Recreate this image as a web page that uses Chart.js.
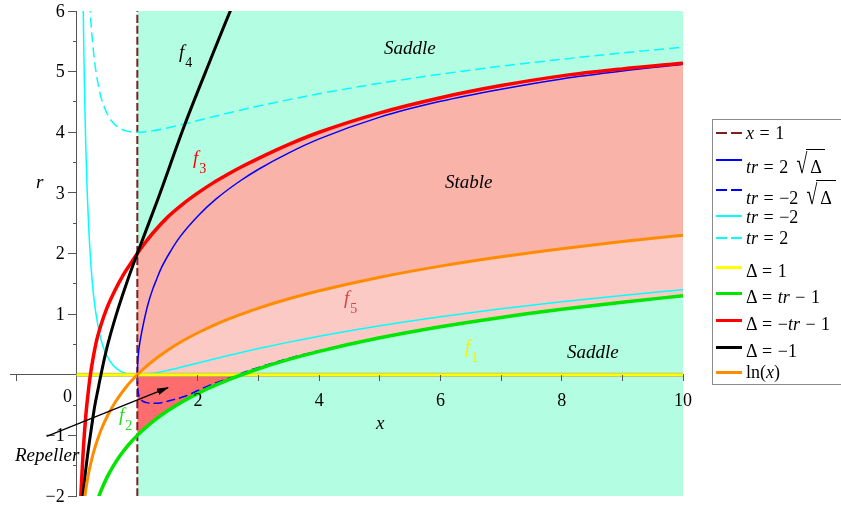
<!DOCTYPE html>
<html lang="en">
<head>
<meta charset="utf-8">
<title>Stability regions in the (x, r) plane</title>
<script src="https://cdn.jsdelivr.net/npm/chart.js@4.4.1/dist/chart.umd.min.js"></script>
<style>
  html, body { margin: 0; padding: 0; background: #fff; }
  #wrap { position: relative; width: 841px; height: 510px; overflow: hidden;
          font-family: 'Liberation Serif', 'Times New Roman', 'DejaVu Serif', serif; color: #000; }
  #plot { position: absolute; left: 0; top: 0; }
  .lbl { position: absolute; white-space: nowrap; font-size: 19px; line-height: 19px; font-style: italic; }
  .lbl .sub { font-style: normal; font-size: 14px; position: relative; top: 9px; margin-left: 1px; }
  .num { position: absolute; white-space: nowrap; font-size: 18px; line-height: 18px; }
  #legend { position: absolute; left: 712px; top: 119px; width: 150px; height: 266px;
            border: 1px solid #8c8c8c; box-sizing: border-box; background: #fff; }
  .key { position: absolute; left: 716px; width: 26px; }
  .ltx { position: absolute; left: 746px; font-size: 18px; line-height: 18px; white-space: nowrap; word-spacing: 1px; }
  .it { font-style: italic; }
  .rt { display: inline-block; font-size: 18px; line-height: 18px; transform: scale(1.1, 1.55); transform-origin: 50% 88%; margin-left: 3px; }
  .ov { position: relative; }
  .ov::before { content: ''; position: absolute; left: -1px; right: 0; top: -8px; border-top: 1px solid #000; }
  svg { position: absolute; left: 0; top: 0; }
</style>
</head>
<body>
<div id="wrap">
  <canvas id="plot" width="841" height="510"></canvas>

  <!-- region names and curve tags -->
  <div class="lbl" style="left:384px;top:38px">Saddle</div>
  <div class="lbl" style="left:445px;top:172px">Stable</div>
  <div class="lbl" style="left:567px;top:342px">Saddle</div>
  <div class="lbl" style="left:15px;top:445px">Repeller</div>
  <div class="lbl" style="left:179px;top:42px;color:#000">f<span class="sub">4</span></div>
  <div class="lbl" style="left:193px;top:148px;color:#ff0000">f<span class="sub">3</span></div>
  <div class="lbl" style="left:344px;top:288px;color:#d04545">f<span class="sub">5</span></div>
  <div class="lbl" style="left:465px;top:337px;color:#f2f200">f<span class="sub">1</span></div>
  <div class="lbl" style="left:119px;top:405px;color:#1ee01e">f<span class="sub">2</span></div>
  <div class="lbl" style="left:376px;top:413px">x</div>
  <div class="lbl" style="left:36px;top:172px">r</div>
  <div class="num" style="left:63px;top:387px">0</div>

  <svg width="841" height="510">
    <defs>
      <marker id="head" markerWidth="12" markerHeight="7" refX="11" refY="3.5" orient="auto" markerUnits="userSpaceOnUse">
        <path d="M0,0 L12,3.5 L0,7 Z" fill="#000"/>
      </marker>
    </defs>
    <line x1="46.7" y1="436.3" x2="168" y2="387.6" stroke="#000" stroke-width="1.3" marker-end="url(#head)"/>
  </svg>

  <!-- legend -->
  <div id="legend"></div>
  <div class="key" style="top:131.7px;height:2px;background:repeating-linear-gradient(90deg,#7f1f1f 0 11px,transparent 11px 15px)"></div>
  <div class="ltx" style="top:124px"><span class="it">x</span> = 1</div>
  <div class="key" style="top:159px;height:2px;background:#0000ff"></div>
  <div class="ltx" style="top:158px"><span class="it">tr</span> = 2 <span class="rt">√</span><span class="ov">&#8201;Δ&#8201;</span></div>
  <div class="key" style="top:189px;height:2px;background:repeating-linear-gradient(90deg,#0000ff 0 11px,transparent 11px 15px)"></div>
  <div class="ltx" style="top:189px"><span class="it">tr</span> = −2 <span class="rt">√</span><span class="ov">&#8201;Δ&#8201;</span></div>
  <div class="key" style="top:215px;height:2px;background:#00ffff"></div>
  <div class="ltx" style="top:207.5px"><span class="it">tr</span> = −2</div>
  <div class="key" style="top:236.7px;height:2px;background:repeating-linear-gradient(90deg,#00ffff 0 11px,transparent 11px 15px)"></div>
  <div class="ltx" style="top:229px"><span class="it">tr</span> = 2</div>
  <div class="key" style="top:265.8px;height:3px;background:#ffff00"></div>
  <div class="ltx" style="top:261.5px">Δ = 1</div>
  <div class="key" style="top:291.8px;height:3px;background:#00e600"></div>
  <div class="ltx" style="top:288px">Δ = <span class="it">tr</span> − 1</div>
  <div class="key" style="top:319.2px;height:3px;background:#ff0000"></div>
  <div class="ltx" style="top:315px">Δ = −<span class="it">tr</span> − 1</div>
  <div class="key" style="top:346.2px;height:3px;background:#000000"></div>
  <div class="ltx" style="top:341.5px">Δ = −1</div>
  <div class="key" style="top:371.2px;height:3px;background:#ff8c00"></div>
  <div class="ltx" style="top:363px">ln(<span class="it">x</span>)</div>
</div>

<script>
// Shared abscissae for every curve on the right of x = 1
const xR = [1, 1.1, 1.25, 1.5, 1.75, 2, 2.25, 2.5, 2.72, 3, 3.5, 4, 5, 6, 7, 8, 9, 10];

// f3 : Δ = −tr − 1
const redR  = [2.0, 2.14, 2.33, 2.60, 2.815, 3.0, 3.165, 3.31, 3.43, 3.57, 3.80, 4.0, 4.32, 4.57, 4.77, 4.93, 5.045, 5.14];
const redLX = [0.055, 0.066, 0.08, 0.094, 0.11, 0.127, 0.15, 0.17, 0.2, 0.226, 0.27, 0.325, 0.4, 0.49, 0.62, 0.764, 0.88];
const redLY = [-2.32, -2.06, -1.76, -1.5, -1.22, -0.97, -0.68, -0.47, -0.2, 0.0, 0.27, 0.55, 0.82, 1.08, 1.37, 1.64, 1.82];

// f5 : ln(x)
const orangeR  = [0, 0.095, 0.223, 0.405, 0.560, 0.693, 0.811, 0.916, 1.0, 1.099, 1.253, 1.386, 1.609, 1.792, 1.946, 2.079, 2.197, 2.303];
const orangeLX = [0.12, 0.15, 0.2, 0.25, 0.3, 0.4, 0.5, 0.6, 0.7, 0.8, 0.9];
const orangeLY = [-2.12, -1.897, -1.609, -1.386, -1.204, -0.916, -0.693, -0.511, -0.357, -0.223, -0.105];

// f2 : Δ = tr − 1
const greenR  = [-1, -0.905, -0.777, -0.595, -0.440, -0.307, -0.189, -0.084, 0.0, 0.099, 0.253, 0.386, 0.609, 0.792, 0.946, 1.079, 1.197, 1.303];
const greenLX = [0.33, 0.4, 0.5, 0.6, 0.7, 0.8, 0.9];
const greenLY = [-2.109, -1.916, -1.693, -1.511, -1.357, -1.223, -1.105];

// tr = −2 and tr = 2
const cyanR   = [0, 0.004, 0.023, 0.072, 0.131, 0.193, 0.255, 0.316, 0.368, 0.432, 0.538, 0.636, 0.809, 0.958, 1.089, 1.204, 1.308, 1.403];
const cyanLX  = [0.1, 0.11, 0.12, 0.135, 0.15, 0.175, 0.2, 0.25, 0.3, 0.4, 0.5, 0.6, 0.7, 0.8, 0.9];
const cyanLY  = [6.70, 5.88, 5.21, 4.41, 3.77, 2.97, 2.39, 1.61, 1.13, 0.58, 0.31, 0.156, 0.072, 0.027, 0.006];
const cyanDashR  = [4, 4.004, 4.023, 4.072, 4.131, 4.193, 4.255, 4.316, 4.368, 4.432, 4.538, 4.636, 4.809, 4.958, 5.089, 5.204, 5.308, 5.403];
const cyanDashLX = [0.2, 0.22, 0.25, 0.3, 0.35, 0.4, 0.5, 0.6, 0.7, 0.8, 0.9];
const cyanDashLY = [6.39, 6.03, 5.61, 5.13, 4.81, 4.58, 4.31, 4.156, 4.072, 4.027, 4.006];

// f4 : Δ = −1
const blackX = [0.1, 0.12, 0.143, 0.18, 0.215, 0.26, 0.297, 0.35, 0.40, 0.5, 0.655, 0.847, 1.0, 1.34, 1.78, 2.2, 2.55, 2.62];
const blackY = [-2.05, -1.84, -1.62, -1.32, -1.07, -0.76, -0.52, -0.25, 0.0, 0.45, 1.0, 1.58, 2.0, 2.9, 4.12, 5.18, 6.04, 6.2];

// tr = 2√Δ and tr = −2√Δ
const blueX = [1, 1.004, 1.012, 1.025, 1.04, 1.055, 1.07, 1.1, 1.14, 1.18, 1.25, 1.32, 1.4, 1.55, 1.7, 2, 2.3, 2.7, 3, 3.5, 4, 5, 6, 7, 8, 9, 10];
const blueY = [0, 0.15, 0.28, 0.41, 0.52, 0.61, 0.69, 0.84, 1.02, 1.18, 1.4, 1.58, 1.77, 2.04, 2.27, 2.62, 2.9, 3.2, 3.39, 3.66, 3.89, 4.25, 4.51, 4.71, 4.88, 5.01, 5.12];
const blueDashX = [1, 1.002, 1.008, 1.02, 1.04, 1.08, 1.15, 1.25, 1.4, 1.6, 1.8, 2, 2.25, 2.5, 2.72, 3, 3.5, 4, 5, 6, 7, 8, 9, 10];
const blueDashY = [0, -0.12, -0.23, -0.32, -0.38, -0.43, -0.46, -0.47, -0.46, -0.41, -0.35, -0.26, -0.15, -0.06, 0.025, 0.12, 0.27, 0.395, 0.614, 0.796, 0.949, 1.081, 1.199, 1.304];

// x = 1 and Δ = 1
const vertX = [1, 1], vertY = [-2, 6];
const flatX = [0, 10], flatY = [0, 0];

// ticks and their labels
const xTicks = [-1, 0, 1, 2, 3, 4, 5, 6, 7, 8, 9, 10];
const xTickLabels = [2, 4, 6, 8, 10];
const yTicks = [-2, -1, 0, 1, 2, 3, 4, 5, 6];
const yMinorTicks = [-2, -1.5, -1, -0.5, 0, 0.5, 1, 1.5, 2, 2.5, 3, 3.5, 4, 4.5, 5, 5.5, 6];
const yTickLabels = [-2, -1, 1, 2, 3, 4, 5, 6];

const FONT = "'Liberation Serif', 'Times New Roman', serif";
const AXIS = '#555555';
const NONE = 'rgba(0,0,0,0)';
const AQUA = '#b3fde3', SALMON = '#f9b3a9', PINK = '#fbcac5', DEEP = '#fe6d6d';

const pts = (xs, ys) => xs.map((x, i) => ({ x, y: ys[i] }));
const setTicks = values => scale => { scale.ticks = values.map(value => ({ value })); };

function band(data, fill, color, order) {
  return { data, fill, backgroundColor: color, borderColor: NONE, borderWidth: 0,
           pointRadius: 0, showLine: true, cubicInterpolationMode: 'monotone', order };
}
function curve(data, color, width, dash, order) {
  return { data, borderColor: color, borderWidth: width, borderDash: dash, pointRadius: 0,
           showLine: true, fill: false, cubicInterpolationMode: 'monotone', order,
           borderCapStyle: 'butt', borderJoinStyle: 'round' };
}

const nDeep = xR.indexOf(2.72) + 1;
const datasets = [
  band(pts([1, 10], [6, 6]), { value: -2 }, AQUA, 100),                          // 0 saddle background
  band(pts(xR, greenR), false, NONE, 99),                                         // 1 lower edge of pale band
  band(pts(xR, orangeR), 1, PINK, 90),                                            // 2 pale band
  band(pts(xR.slice(0, nDeep), greenR.slice(0, nDeep)), { value: 0 }, DEEP, 80),  // 3 repeller wedge
  band(pts(xR, redR), 2, SALMON, 70),                                             // 4 stable band
  curve(pts(vertX, vertY), '#7f1f1f', 2, [8, 3], 10),
  curve(pts(blueX, blueY), '#0000ff', 1.5, [], 9),
  curve(pts(blueDashX, blueDashY), '#0000ff', 1.5, [9, 4], 8),
  curve(pts(cyanLX.concat(xR), cyanLY.concat(cyanR)), '#00ffff', 1.5, [], 7),
  curve(pts(cyanDashLX.concat(xR), cyanDashLY.concat(cyanDashR)), '#00ffff', 1.5, [10, 5], 6),
  curve(pts(flatX, flatY), '#bcbc50', 4, [], 5.5),     // soft rim of Δ = 1
  curve(pts(flatX, flatY), '#ffff00', 2.6, [], 5),
  curve(pts(greenLX.concat(xR), greenLY.concat(greenR)), '#00e600', 3.5, [], 4),
  curve(pts(redLX.concat(xR), redLY.concat(redR)), '#ff0000', 3.5, [], 3),
  curve(pts(blackX, blackY), '#000000', 3, [], 2),
  curve(pts(orangeLX.concat(xR), orangeLY.concat(orangeR)), '#ff8c00', 3, [], 1)
];

// numbers beside the vertical axis, placed with the r scale
const yLabelPlugin = {
  id: 'yLabels',
  afterDraw(chart) {
    const { ctx, scales } = chart;
    const x0 = scales.x.getPixelForValue(0);
    ctx.save();
    ctx.font = '18px ' + FONT;
    ctx.fillStyle = '#000';
    ctx.textAlign = 'right';
    ctx.textBaseline = 'middle';
    yTickLabels.forEach(v => {
      ctx.fillText(v < 0 ? '\u2212' + Math.abs(v) : String(v), x0 - 12, scales.y.getPixelForValue(v) + 1);
    });
    ctx.restore();
  }
};

new Chart(document.getElementById('plot'), {
  type: 'scatter',
  data: { datasets },
  plugins: [yLabelPlugin],
  options: {
    responsive: false,
    animation: false,
    events: [],
    layout: { padding: { left: 10, right: 158, top: 11, bottom: 14 } },
    plugins: { legend: { display: false }, tooltip: { enabled: false } },
    scales: {
      // axis line, drawn beneath the curves
      x: {
        type: 'linear', min: -1.1, max: 10, position: { y: 0 },
        afterFit(s) { s.height = 0; },
        afterBuildTicks: setTicks(xTicks),
        border: { display: true, color: AXIS, width: 1 },
        grid: { display: false },
        ticks: { display: false }
      },
      // tick marks and numbers, drawn over the shaded regions
      xMarks: {
        type: 'linear', min: -1.1, max: 10, position: { y: 0 },
        afterFit(s) { s.height = 0; },
        afterBuildTicks: setTicks(xTicks),
        border: { display: false },
        grid: { display: true, z: 1, drawOnChartArea: false, drawTicks: true, tickLength: 6, tickWidth: 1,
                tickColor: c => (c.tick && c.tick.value !== 0) ? AXIS : NONE },
        ticks: { z: 1, autoSkip: false, maxRotation: 0, padding: 10, color: '#000',
                 font: { family: FONT, size: 18 },
                 callback: v => xTickLabels.includes(v) ? String(v) : '' }
      },
      y: {
        type: 'linear', min: -2, max: 6, position: { x: 0 },
        afterFit(s) { s.width = 0; },
        afterBuildTicks: setTicks(yTicks),
        border: { display: true, color: AXIS, width: 1 },
        grid: { display: true, drawOnChartArea: false, drawTicks: true, tickLength: 8, tickWidth: 1, tickColor: AXIS },
        ticks: { autoSkip: false, callback: () => '' }
      },
      yMinor: {
        type: 'linear', min: -2, max: 6, position: { x: 0 },
        afterFit(s) { s.width = 0; },
        afterBuildTicks: setTicks(yMinorTicks),
        border: { display: false },
        grid: { display: true, drawOnChartArea: false, drawTicks: true, tickLength: 4, tickWidth: 1, tickColor: AXIS },
        ticks: { autoSkip: false, callback: () => '' }
      }
    }
  }
});
</script>
</body>
</html>
